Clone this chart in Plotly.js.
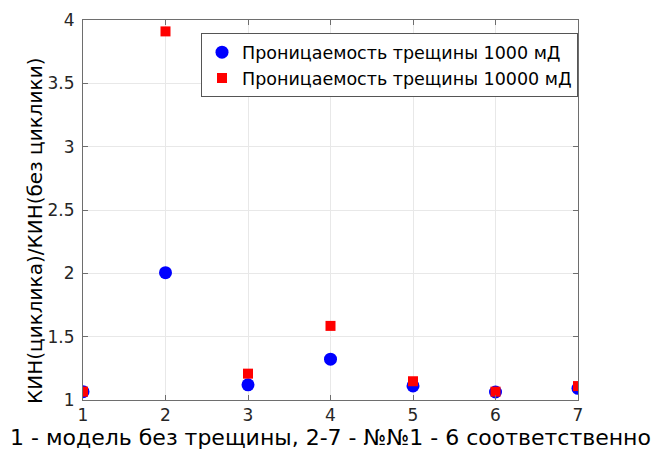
<!DOCTYPE html>
<html>
<head>
<meta charset="utf-8">
<script src="https://cdn.plot.ly/plotly-3.0.1.min.js"></script>
<style>html,body{margin:0;padding:0;background:#fff;}#chart{width:654px;height:450px;}</style>
</head>
<body>
<div id="chart"></div>
<script>
const xValues = [1, 2, 3, 4, 5, 6, 7];
const perm1000 = [1.066, 2.005, 1.12, 1.322, 1.111, 1.063, 1.092];
const perm10000 = [1.066, 3.91, 1.208, 1.585, 1.148, 1.066, 1.11];
const seriesNames = ['Проницаемость трещины 1000 мД', 'Проницаемость трещины 10000 мД'];
const xTitle = '1 - модель без трещины, 2-7 - №№1 - 6 соответственно';
const yTitle = 'КИН(циклика)/КИН(без циклики)';
const yTicks = [1, 1.5, 2, 2.5, 3, 3.5, 4];
const yTickLabels = ['1', '1.5', '2', '2.5', '3', '3.5', '4'];

const fontFam = 'DejaVu Sans, Liberation Sans, Arial, sans-serif';
const traces = [
  {x: xValues, y: perm1000, name: seriesNames[0], mode: 'markers', type: 'scatter',
   marker: {symbol: 'circle', color: '#0000ff', size: 13, line: {width: 0}}},
  {x: xValues, y: perm10000, name: seriesNames[1], mode: 'markers', type: 'scatter',
   marker: {symbol: 'square', color: '#ff0000', size: 10, line: {width: 0}}}
];
const axisCommon = {
  showline: true, linecolor: '#6e6e6e', linewidth: 1, mirror: 'ticks',
  ticks: 'inside', ticklen: 5, tickcolor: '#6e6e6e',
  showgrid: true, gridcolor: '#e8e8e8', gridwidth: 1, zeroline: false,
  tickfont: {family: fontFam, size: 17, color: '#262626'}
};
const layout = {
  width: 654, height: 450,
  margin: {l: 83, r: 76, t: 20, b: 50},
  paper_bgcolor: '#fff', plot_bgcolor: '#fff',
  font: {family: fontFam, color: '#262626'},
  showlegend: true,
  legend: {x: 1, xanchor: 'right', y: 0.965, yanchor: 'top',
    bgcolor: '#fff', bordercolor: '#555', borderwidth: 1,
    font: {family: fontFam, size: 17.5, color: '#000'},
    itemwidth: 30, tracegroupgap: 0},
  xaxis: Object.assign({}, axisCommon, {range: [1, 7], tickvals: xValues, ticktext: xValues.map(String),
    title: {text: xTitle, font: {family: fontFam, size: 22, color: '#000'}, standoff: 4}}),
  yaxis: Object.assign({}, axisCommon, {range: [1, 4], tickvals: yTicks, ticktext: yTickLabels,
    ticklabelstandoff: 4}),
  annotations: [{text: yTitle, textangle: -90, xref: 'paper', yref: 'paper',
    x: -0.097, y: 0.445, xanchor: 'center', yanchor: 'middle', showarrow: false,
    font: {family: fontFam, size: 20, color: '#000'}}]
};
Plotly.newPlot('chart', traces, layout, {displayModeBar: false, staticPlot: true});
</script>
</body>
</html>
